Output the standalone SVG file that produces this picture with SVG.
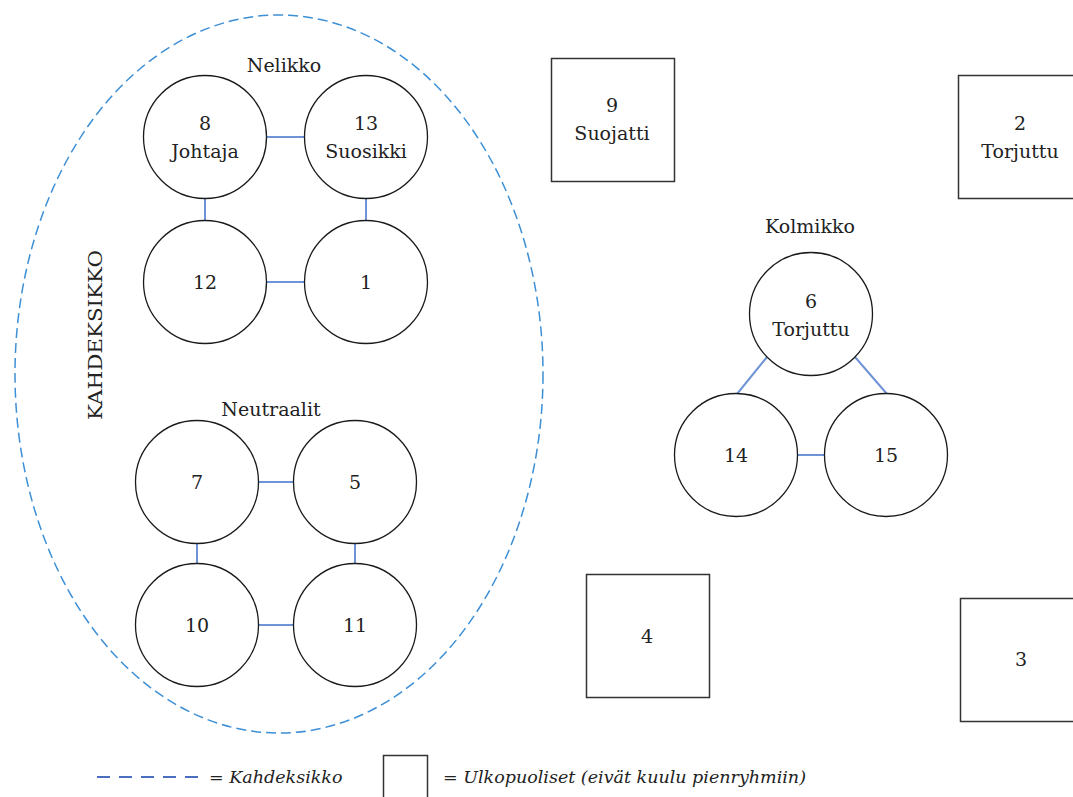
<svg xmlns="http://www.w3.org/2000/svg" width="1073" height="797" viewBox="0 0 1073 797">
<style>
.n{fill:#fff;stroke:#1a1a1a;stroke-width:1.3}
.sq{fill:#fff;stroke:#333;stroke-width:1.5}
.t{font-family:"DejaVu Serif","Liberation Serif",serif;font-size:19px;fill:#222;text-anchor:middle}
.c{stroke:#6f93d6;stroke-width:2;fill:none}
.lg{font-family:"DejaVu Serif","Liberation Serif",serif;font-size:17.5px;font-style:italic;fill:#222}
</style>
<rect width="1073" height="797" fill="#fff"/>
<g id="kahdeksikko">
<ellipse cx="279" cy="374" rx="264" ry="359" fill="none" stroke="#3d8fd6" stroke-width="1.5" stroke-dasharray="10,5"/>
<text class="t" transform="translate(102,335) rotate(-90)" textLength="170" lengthAdjust="spacingAndGlyphs">KAHDEKSIKKO</text>
</g>
<g id="labels">
<text class="t" x="284" y="72">Nelikko</text>
<text class="t" x="271" y="416">Neutraalit</text>
<text class="t" x="810" y="233">Kolmikko</text>
</g>
<g id="connectors">
<line class="c" x1="266" y1="137" x2="305" y2="137"/>
<line class="c" x1="205" y1="198" x2="205" y2="221"/>
<line class="c" x1="366" y1="198" x2="366" y2="221"/>
<line class="c" x1="266" y1="282" x2="305" y2="282"/>
<line class="c" x1="258" y1="482" x2="293" y2="482"/>
<line class="c" x1="197" y1="543" x2="197" y2="564"/>
<line class="c" x1="355" y1="543" x2="355" y2="564"/>
<line class="c" x1="258" y1="625" x2="293" y2="625"/>
<line class="c" x1="767" y1="357" x2="737" y2="394"/>
<line class="c" x1="855" y1="357" x2="887" y2="394"/>
<line class="c" x1="797" y1="455" x2="825" y2="455"/>
</g>
<g id="n8"><circle class="n" cx="205" cy="137" r="61.5"/><text class="t" x="205" y="130">8</text><text class="t" x="205" y="158">Johtaja</text></g>
<g id="n13"><circle class="n" cx="366" cy="137" r="61.5"/><text class="t" x="366" y="130">13</text><text class="t" x="366" y="158">Suosikki</text></g>
<g id="n12"><circle class="n" cx="205" cy="282" r="61.5"/><text class="t" x="205" y="289">12</text></g>
<g id="n1"><circle class="n" cx="366" cy="282" r="61.5"/><text class="t" x="366" y="289">1</text></g>
<g id="n7"><circle class="n" cx="197" cy="482" r="61.5"/><text class="t" x="197" y="489">7</text></g>
<g id="n5"><circle class="n" cx="355" cy="482" r="61.5"/><text class="t" x="355" y="489">5</text></g>
<g id="n10"><circle class="n" cx="197" cy="625" r="61.5"/><text class="t" x="197" y="632">10</text></g>
<g id="n11"><circle class="n" cx="355" cy="625" r="61.5"/><text class="t" x="355" y="632">11</text></g>
<g id="n6"><circle class="n" cx="811" cy="314" r="61.5"/><text class="t" x="811" y="308">6</text><text class="t" x="811" y="336">Torjuttu</text></g>
<g id="n14"><circle class="n" cx="736" cy="455" r="61.5"/><text class="t" x="736" y="462">14</text></g>
<g id="n15"><circle class="n" cx="886" cy="455" r="61.5"/><text class="t" x="886" y="462">15</text></g>
<g id="n9"><rect class="sq" x="551.5" y="58.5" width="123" height="123"/><text class="t" x="612" y="112">9</text><text class="t" x="612" y="140">Suojatti</text></g>
<g id="n2"><rect class="sq" x="958.5" y="75.5" width="123" height="123"/><text class="t" x="1020" y="130">2</text><text class="t" x="1020" y="158">Torjuttu</text></g>
<g id="n4"><rect class="sq" x="586.5" y="574.5" width="123" height="123"/><text class="t" x="647" y="643">4</text></g>
<g id="n3"><rect class="sq" x="960.5" y="598.5" width="123" height="123"/><text class="t" x="1021" y="666">3</text></g>
<g id="legend">
<line x1="97" y1="777" x2="199" y2="777" stroke="#4a6fc0" stroke-width="2" stroke-dasharray="13,9"/>
<text class="lg" x="209" y="783">= Kahdeksikko</text>
<rect class="sq" x="383.5" y="755.5" width="44" height="50"/>
<text class="lg" x="443" y="783">= Ulkopuoliset (eivät kuulu pienryhmiin)</text>
</g>
</svg>
